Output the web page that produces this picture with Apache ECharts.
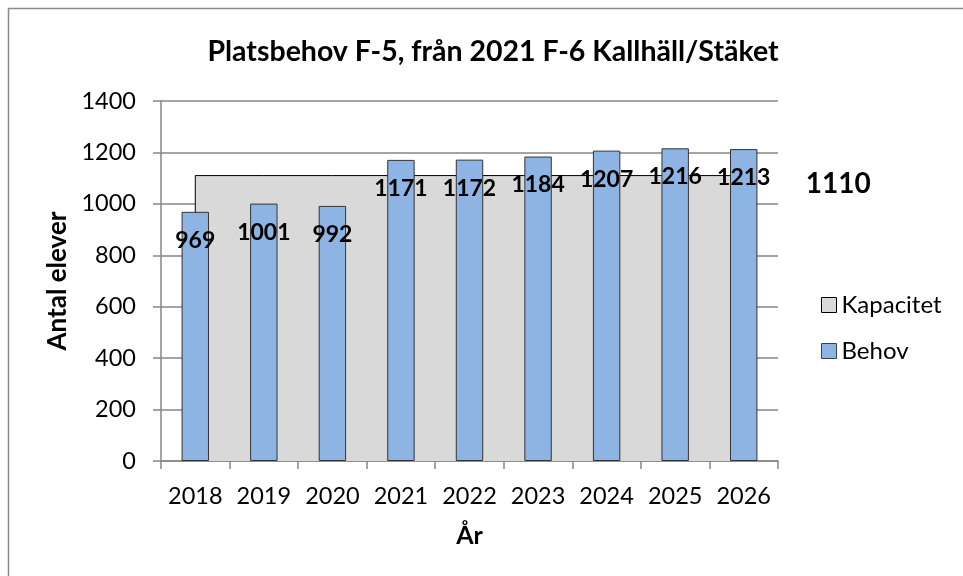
<!DOCTYPE html>
<html>
<head>
<meta charset="utf-8">
<script src="https://cdn.jsdelivr.net/npm/echarts@6/dist/echarts.min.js"></script>
<style>
  html, body { margin: 0; padding: 0; background: #fff; }
  #chart { width: 963px; height: 576px; }
</style>
</head>
<body>
<div id="chart"></div>
<script>
// data
const years = ["2018", "2019", "2020", "2021", "2022", "2023", "2024", "2025", "2026"];
const behov = [969, 1001, 992, 1171, 1172, 1184, 1207, 1216, 1213];
const kapacitet = [1110, 1110, 1110, 1110, 1110, 1110, 1110, 1110, 1110];
const yTicks = { min: 0, max: 1400, interval: 200 };

const FONT = "Lato";
const chart = echarts.init(document.getElementById("chart"));

// grey capacity area, outlined on top and sides (not on the x axis)
function renderKapacitet(params, api) {
  if (params.dataIndex !== 0) return;
  const n = kapacitet.length;
  const top = kapacitet.map((v, i) => api.coord([i, v]));
  const start = api.coord([0, 0]);
  const end = api.coord([n - 1, 0]);
  const outline = [start].concat(top, [end]);
  const last = top[n - 1];
  return {
    type: "group",
    children: [
      { type: "polygon", shape: { points: outline }, style: { fill: "#d9d9d9" } },
      { type: "polyline", shape: { points: outline }, style: { stroke: "#000", lineWidth: 1, fill: null } },
      {
        type: "text",
        x: last[0] + 62,
        y: last[1] + 8,
        style: {
          text: String(kapacitet[n - 1]),
          fontFamily: FONT, fontWeight: "bold", fontSize: 28,
          fill: "#000", verticalAlign: "middle", align: "left"
        }
      }
    ]
  };
}

const option = {
  backgroundColor: "#fff",
  animation: false,
  textStyle: { fontFamily: FONT },
  graphic: [{
    type: "rect",
    shape: { x: 8.5, y: 8.5, width: 2000, height: 2000 },
    style: { fill: null, stroke: "#8a8a8a", lineWidth: 1.5 },
    silent: true
  }],
  title: {
    text: "Platsbehov F-5, från 2021 F-6 Kallhäll/Stäket",
    left: 488, top: 32, textAlign: "center",
    textStyle: { fontFamily: FONT, fontWeight: "bold", fontSize: 28.5, color: "#000" }
  },
  legend: {
    orient: "vertical",
    left: 821, top: 293, padding: 0,
    itemWidth: 15, itemHeight: 15, itemGap: 22,
    textStyle: { fontFamily: FONT, fontSize: 24, color: "#000" },
    data: [
      { name: "Kapacitet", icon: "rect", itemStyle: { color: "#d9d9d9", borderColor: "#000", borderWidth: 1 } },
      { name: "Behov", icon: "rect", itemStyle: { color: "#8eb4e3", borderColor: "#404040", borderWidth: 1 } }
    ]
  },
  grid: { left: 161, right: 185, top: 101, bottom: 115 },
  xAxis: {
    type: "category",
    data: years,
    boundaryGap: true,
    name: "År",
    nameLocation: "middle",
    nameGap: 62,
    nameTextStyle: { fontFamily: FONT, fontWeight: "bold", fontSize: 25, color: "#000" },
    axisLine: { lineStyle: { color: "#868686", width: 1.5 } },
    axisTick: { show: true, interval: 0, length: 8, lineStyle: { color: "#868686", width: 1.5 } },
    axisLabel: { interval: 0, hideOverlap: false, fontFamily: FONT, fontSize: 23.5, color: "#000", margin: 23 }
  },
  yAxis: {
    type: "value",
    min: yTicks.min, max: yTicks.max, interval: yTicks.interval,
    name: "Antal elever",
    nameLocation: "middle",
    nameGap: 86,
    nameTextStyle: { fontFamily: FONT, fontWeight: "bold", fontSize: 26, color: "#000" },
    axisLine: { show: true, lineStyle: { color: "#868686", width: 1.5 } },
    axisTick: { show: true, length: 8, lineStyle: { color: "#868686", width: 1.5 } },
    axisLabel: { fontFamily: FONT, fontSize: 23.5, color: "#000", margin: 25, formatter: (v) => String(v) },
    splitLine: { lineStyle: { color: "#868686", width: 1.5 } }
  },
  series: [
    {
      name: "Kapacitet",
      type: "custom",
      renderItem: renderKapacitet,
      data: kapacitet.map((v, i) => [i, v]),
      encode: { x: 0, y: 1 },
      itemStyle: { color: "#d9d9d9" },
      z: 1
    },
    {
      name: "Behov",
      type: "bar",
      data: behov,
      barWidth: "40%",
      itemStyle: { color: "#8eb4e3", borderColor: "#333", borderWidth: 1 },
      label: {
        show: true,
        position: "insideTop",
        distance: 17,
        fontFamily: FONT, fontWeight: "bold", fontSize: 23, color: "#000"
      },
      z: 3
    }
  ]
};

chart.setOption(option);
</script>
</body>
</html>
